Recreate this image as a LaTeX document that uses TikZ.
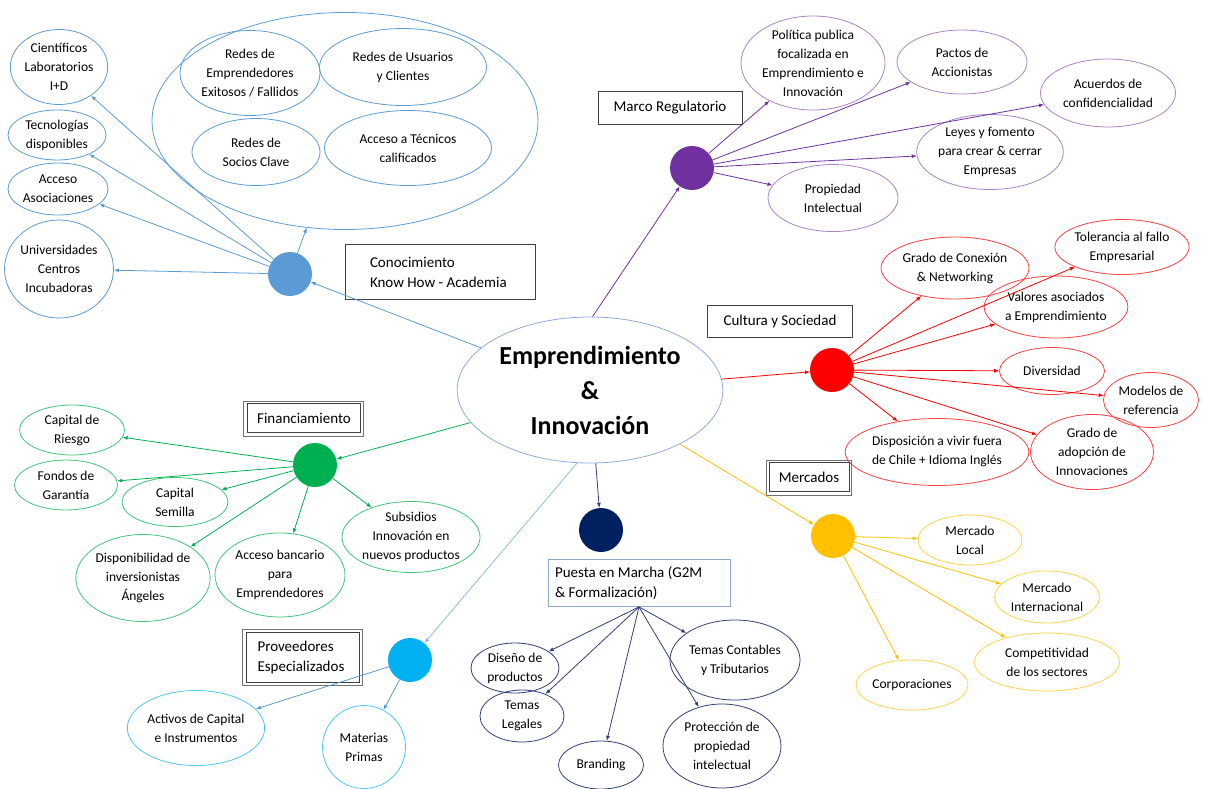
\documentclass[tikz,border=0pt]{standalone}
\usepackage{fontspec}
\setmainfont{Carlito}
\usetikzlibrary{arrows.meta, shapes.geometric}

\definecolor{kblue}{HTML}{5B9BD5}
\definecolor{mpurple}{HTML}{7030A0}
\definecolor{cred}{HTML}{FF0000}
\definecolor{myellow}{HTML}{FFC000}
\definecolor{pnavy}{HTML}{002060}
\definecolor{navyline}{HTML}{2F3F7A}
\definecolor{fgreen}{HTML}{00B050}
\definecolor{plblue}{HTML}{00B0F0}
\definecolor{ctrline}{HTML}{8FAADC}
\definecolor{pbox}{HTML}{8EA9C8}

\begin{document}
\begin{tikzpicture}[x=1pt, y=-1pt,
    hub/.style={circle, fill=#1, minimum size=44pt, inner sep=0pt},
    idea/.style={ellipse, draw=#1, line width=0.8pt, inner sep=0pt, align=center,
      font=\fontsize{13.5}{19}\selectfont},
    dims/.style 2 args={minimum width=#1pt, minimum height=#2pt},
    lbl/.style={rectangle, draw=black!75, line width=0.8pt, align=flush left, inner sep=0pt,
      font=\fontsize{15}{20}\selectfont},
    frame/.style={draw=black!55, line width=0.8pt},
    link/.style={draw=#1, line width=0.8pt, -{Latex[length=5pt, width=4pt]}}]
    \useasboundingbox (0,0) rectangle (1208,788);

    % nodes %
      \node[ellipse, draw=ctrline, line width=0.8pt, dims={230}{146}, align=center,
        font=\bfseries\fontsize{26}{35}\selectfont] (ctr) at (590,390) {Emprendimiento\\\&\\Innovación};

      % conocimiento
      \node[hub=kblue] (know) at (290,274) {};
      \node[lbl, text width=140pt, inner xsep=25pt, minimum height=55pt] (knowlbl) at (440,272) {Conocimiento\\Know How - Academia};
      \node[idea=kblue, dims={386}{217}] (redes) at (345,121) {};
      \node[idea=kblue, dims={140}{85}] (remp) at (250,73) {Redes de\\Emprendedores\\Exitosos / Fallidos};
      \node[idea=kblue, dims={167}{77}] (rusu) at (403,67) {Redes de Usuarios\\y Clientes};
      \node[idea=kblue, dims={128}{67}] (rsoc) at (256,152) {Redes de\\Socios Clave};
      \node[idea=kblue, dims={167}{75}] (rtec) at (408,148) {Acceso a Técnicos\\calificados};
      \node[idea=kblue, dims={82}{75}] (cient) at (59,67) {Científicos\\Laboratorios\\I+D};
      \node[idea=kblue, dims={98}{50}] (tecno) at (57,135) {Tecnologías\\disponibles};
      \node[idea=kblue, dims={100}{52}] (asoc) at (58,189) {Acceso\\Asociaciones};
      \node[idea=kblue, dims={98}{98}] (univ) at (59,269) {Universidades\\Centros\\Incubadoras};

      % marco regulatorio
      \node[hub=mpurple] (marco) at (692,168) {};
      \node[lbl, dims={144}{33}, align=center] (marcolbl) at (670,108) {Marco Regulatorio};
      \node[idea=mpurple!60, dims={143}{86}] (polit) at (813,63) {Política publica\\focalizada en\\Emprendimiento e\\Innovación};
      \node[idea=mpurple!60, dims={130}{64}] (pactos) at (962,62) {Pactos de\\Accionistas};
      \node[idea=mpurple!60, dims={135}{68}] (acuer) at (1108,93) {Acuerdos de\\confidencialidad};
      \node[idea=mpurple!60, dims={132}{75}] (leyes) at (990,152) {Leyes y fomento\\para crear \& cerrar\\Empresas};
      \node[idea=mpurple!60, dims={130}{67}] (propi) at (833,198) {Propiedad\\Intelectual};

      % cultura
      \node[hub=cred] (cult) at (832,370) {};
      \node[lbl, dims={145}{32}, align=center] (cultlbl) at (780,321) {Cultura y Sociedad};
      \node[idea=cred!75, dims={124}{62}] (conex) at (955,268) {Grado de Conexión\\\& Networking};
      \node[idea=cred!75, dims={127}{55}] (toler) at (1122,247) {Tolerancia al fallo\\Empresarial};
      \node[idea=cred!75, dims={120}{62}] (valor) at (1056,307) {Valores asociados\\a Emprendimiento};
      \node[idea=cred!75, dims={105}{47}] (diver) at (1052,371) {Diversidad};
      \node[idea=cred!75, dims={95}{55}] (model) at (1151,400) {Modelos de\\referencia};
      \node[idea=cred!75, dims={165}{67}] (dispo) at (937,452) {Disposición a vivir fuera\\de Chile + Idioma Inglés};
      \node[idea=cred!75, dims={123}{75}] (adopc) at (1092,452) {Grado de\\adopción de\\Innovaciones};

      % mercados
      \node[hub=myellow] (merc) at (833,536) {};
      \node[lbl, dims={80}{29}, align=center] (merclbl) at (809,477) {Mercados};
      \node[idea=myellow!70, dims={104}{50}] (mlocal) at (970,540) {Mercado\\Local};
      \node[idea=myellow!70, dims={105}{52}] (minter) at (1047,597) {Mercado\\Internacional};
      \node[idea=myellow!70, dims={145}{58}] (compet) at (1047,662) {Competitividad\\de los sectores};
      \node[idea=myellow!70, dims={108}{50}] (corpo) at (912,685) {Corporaciones};

      % puesta en marcha
      \node[hub=pnavy] (puesta) at (601,530) {};
      \node[lbl, draw=pbox, text width=168pt, inner xsep=7pt, minimum height=47pt] (puestalbl) at (639,583) {Puesta en Marcha (G2M\\\& Formalización)};
      \node[idea=navyline, dims={88}{50}] (disen) at (515,668) {Diseño de\\productos};
      \node[idea=navyline, dims={84}{52}] (legal) at (522,716) {Temas\\Legales};
      \node[idea=navyline, dims={85}{48}] (brand) at (601,765) {Branding};
      \node[idea=navyline, dims={125}{80}] (conta) at (735,660) {Temas Contables\\y Tributarios};
      \node[idea=navyline, dims={118}{84}] (prote) at (722,746) {Protección de\\propiedad\\intelectual};

      % financiamiento
      \node[hub=fgreen] (fin) at (315,465) {};
      \node[lbl, dims={113}{29}, align=center] (finlbl) at (304,418) {Financiamiento};
      \node[idea=fgreen!75, dims={105}{50}] (criesgo) at (72,430) {Capital de\\Riesgo};
      \node[idea=fgreen!75, dims={103}{50}] (fondos) at (66,485) {Fondos de\\Garantía};
      \node[idea=fgreen!75, dims={106}{49}] (semilla) at (175,502) {Capital\\Semilla};
      \node[idea=fgreen!75, dims={125}{87}] (angel) at (143,578) {Disponibilidad de\\inversionistas\\Ángeles};
      \node[idea=fgreen!75, dims={130}{84}] (banca) at (280,575) {Acceso bancario\\para\\Emprendedores};
      \node[idea=fgreen!75, dims={131}{71}] (subsid) at (411,537) {Subsidios\\Innovación en\\nuevos productos};

      % proveedores
      \node[hub=plblue] (prov) at (410,660) {};
      \node[lbl, text width=91pt, inner xsep=11pt, minimum height=50pt] (provlbl) at (303,657) {Proveedores\\Especializados};
      \node[idea=plblue!70, dims={123}{75}] (activos) at (196,728) {Activos de Capital\\e Instrumentos};
      \node[idea=plblue!70, dims={83}{83}] (materias) at (364,747) {Materias\\Primas};

      % outer frames of the boxed labels
      \draw[frame] ([shift={(-4,-2)}]finlbl.north west) rectangle ([shift={(2,3)}]finlbl.south east);
      \draw[frame] ([shift={(-2,-2)}]merclbl.north west) rectangle ([shift={(2,3)}]merclbl.south east);
      \draw[frame] ([shift={(-4,-2)}]provlbl.north west) rectangle ([shift={(2,3)}]provlbl.south east);

    % edges %
      \draw[link=kblue] (ctr) -- (know);
      \draw[link=mpurple] (ctr.88) -- (marco);
      \draw[link=cred] (ctr) -- (cult);
      \draw[link=myellow] (ctr) -- (merc);
      \draw[link=navyline] (ctr) -- (puesta);
      \draw[link=fgreen] (ctr) -- (fin);
      \draw[link=kblue!70] (ctr.260) -- (prov);

      \draw[link=kblue] (know) -- (redes);
      \draw[link=kblue] (know) -- (cient);
      \draw[link=kblue] (know) -- (tecno);
      \draw[link=kblue] (know) -- (asoc);
      \draw[link=kblue] (know) -- (univ);

      \draw[link=mpurple] (marco) -- (polit);
      \draw[link=mpurple] (marco) -- (pactos);
      \draw[link=mpurple] (marco) -- (acuer);
      \draw[link=mpurple] (marco) -- (leyes);
      \draw[link=mpurple] (marco) -- (propi);

      \draw[link=cred] (cult) -- (conex);
      \draw[link=cred] (cult) -- (toler);
      \draw[link=cred] (cult) -- (valor);
      \draw[link=cred] (cult) -- (diver);
      \draw[link=cred] (cult) -- (model);
      \draw[link=cred] (cult) -- (dispo);
      \draw[link=cred] (cult) -- (adopc);

      \draw[link=myellow] (merc) -- (mlocal);
      \draw[link=myellow] (merc) -- (minter);
      \draw[link=myellow] (merc) -- (compet);
      \draw[link=myellow] (merc) -- (corpo);

      \draw[link=navyline] (puestalbl.south) -- (disen);
      \draw[link=navyline] (puestalbl.south) -- (legal);
      \draw[link=navyline] (puestalbl.south) -- (brand);
      \draw[link=navyline] (puestalbl.south) -- (conta);
      \draw[link=navyline] (puestalbl.south) -- (prote);

      \draw[link=fgreen] (fin) -- (criesgo);
      \draw[link=fgreen] (fin) -- (fondos);
      \draw[link=fgreen] (fin) -- (semilla);
      \draw[link=fgreen] (fin) -- (angel);
      \draw[link=fgreen] (fin) -- (banca);
      \draw[link=fgreen] (fin) -- (subsid);

      \draw[link=kblue] (prov) -- (activos);
      \draw[link=kblue] (prov) -- (materias);
\end{tikzpicture}
\end{document}
